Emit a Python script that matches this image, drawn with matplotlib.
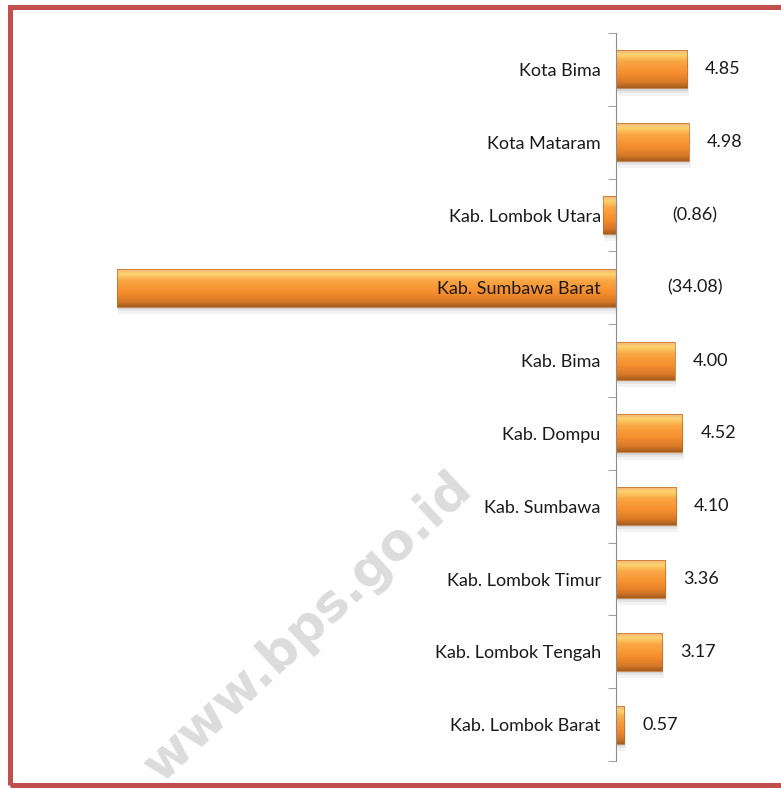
import matplotlib.pyplot as plt
import numpy as np
from matplotlib.colors import LinearSegmentedColormap
from matplotlib.patches import Rectangle

# Data (bottom to top)
regions = ['Kab. Lombok Barat', 'Kab. Lombok Tengah', 'Kab. Lombok Timur', 'Kab. Sumbawa',
           'Kab. Dompu', 'Kab. Bima', 'Kab. Sumbawa Barat', 'Kab. Lombok Utara',
           'Kota Mataram', 'Kota Bima']
values = [0.57, 3.17, 3.36, 4.10, 4.52, 4.00, -34.08, -0.86, 4.98, 4.85]

plt.rcParams['font.family'] = ['Lato', 'DejaVu Sans']

W, H = 781, 788
fig = plt.figure(figsize=(W / 100, H / 100), dpi=100)

# axes placement in pixels
px_per_unit = 14.65
x0_px = 616
xmin, xmax = -35, 11
left_px = x0_px + xmin * px_per_unit
right_px = x0_px + xmax * px_per_unit
top_px, bottom_px = 33, 761
ax = fig.add_axes([left_px / W, 1 - bottom_px / H, (right_px - left_px) / W, (bottom_px - top_px) / H])
ax.patch.set_alpha(0)

# watermark
fig.text(308 / W, 1 - 628 / H, 'www.bps.go.id', fontsize=37, fontweight='bold', color='#dcdcdc',
         family='DejaVu Sans', rotation=43, ha='center', va='center', rotation_mode='anchor', zorder=0)

# bar gradient
cmap = LinearSegmentedColormap.from_list('bar', [
    (0.0, '#F6B47A'), (0.12, '#FCD36E'), (0.3, '#F9A744'),
    (0.6, '#F78F2E'), (0.85, '#D87927'), (1.0, '#A65E1E')])
grad = np.linspace(0, 1, 100).reshape(-1, 1)
h = 0.52
y = np.arange(len(values))
for yi, v in zip(y, values):
    a, b = min(0, v), max(0, v)
    # shadow
    for k, al in [(0.10, 0.08), (0.06, 0.10), (0.03, 0.14)]:
        ax.add_patch(Rectangle((a + k * 1.2, yi - h / 2 - k), b - a, h, color='#707070', alpha=al,
                               lw=0, zorder=1))
    ax.imshow(grad, cmap=cmap, extent=(a, b, yi - h / 2, yi + h / 2), aspect='auto',
              interpolation='bilinear', zorder=2)
    ax.add_patch(Rectangle((a, yi - h / 2), b - a, h, fill=False, ec='#C06A22', lw=0.5, zorder=3))
    if v >= 0:
        ax.annotate(f'{v:.2f}', (v, yi), xytext=(13, 0), textcoords='offset points',
                    ha='left', va='center', fontsize=13, color='#1a1a1a')
    else:
        ax.annotate(f'({abs(v):.2f})', (0, yi), xytext=(57, 0), textcoords='offset points',
                    ha='center', va='center', fontsize=13, color='#1a1a1a')

ax.set_xlim(xmin, xmax)
ax.set_ylim(-0.5, len(values) - 0.5)

for s in ['top', 'right', 'bottom']:
    ax.spines[s].set_visible(False)
ax.spines['left'].set_position(('data', 0))
ax.spines['left'].set_color('#8c8c8c')
ax.spines['left'].set_zorder(4)
ax.set_xticks([])
ax.set_yticks(y)
ax.set_yticklabels(regions, fontsize=13, color='#1a1a1a')
ax.set_yticks(np.arange(-0.5, len(values)), minor=True)
ax.tick_params(axis='y', which='major', length=0, pad=11)
ax.tick_params(axis='y', which='minor', length=6, color='#8c8c8c')
ax.yaxis.set_zorder(5)

# red border
fig.patches.append(Rectangle((10 / W, 1 - 785 / H), (W + 20) / W, (785 - 6.5) / H,
                             transform=fig.transFigure, fill=False, ec='#C0504D', lw=3.6))

fig.savefig('out.png', dpi=100)
